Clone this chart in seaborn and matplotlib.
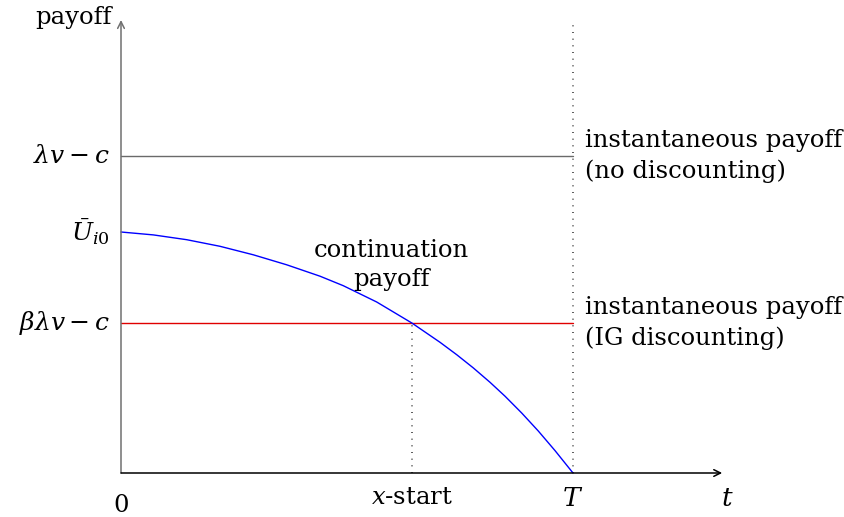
import numpy as np
import pandas as pd
import matplotlib
matplotlib.use("Agg")
import matplotlib.pyplot as plt
import seaborn as sns

# ----------------- Data -----------------
# time axis runs from 0 to T (T = 10)
T_END = 10.0
X_START = 6.44
LAMBDA_V_C = 3.17      # instantaneous payoff, no discounting
BETA_LAMBDA_V_C = 1.50 # instantaneous payoff, IG discounting
U_I0 = 2.41

# continuation payoff
cont_t = [0.0, 0.715, 1.454, 2.190, 2.927, 3.666, 4.403, 4.918, 5.657, 6.438,
          7.058, 7.427, 7.794, 8.164, 8.496, 8.865, 9.232, 9.602, 10.0]
cont_u = [2.410, 2.381, 2.333, 2.267, 2.182, 2.082, 1.968, 1.873, 1.710, 1.499,
          1.307, 1.183, 1.051, 0.907, 0.768, 0.600, 0.420, 0.224, 0.0]

ytick_vals = [LAMBDA_V_C, U_I0, BETA_LAMBDA_V_C]
ytick_labels = [r"$\lambda v - c$", r"$\bar{U}_{i0}$", r"$\beta\lambda v - c$"]

sns.set_theme(style="white")
plt.rcParams["font.family"] = ["DejaVu Serif"]
plt.rcParams["mathtext.fontset"] = "dejavuserif"
plt.rcParams["text.color"] = "black"

fig = plt.figure(figsize=(8.44, 5.17), dpi=100)
ax = fig.add_axes([0, 0, 1, 1])
ax.set_axis_off()
# pixel-ish mapping: 45.2 px per time unit, 100 px per payoff unit
ax.set_xlim(-121 / 45.2, (844 - 121) / 45.2)
ax.set_ylim(-(517 - 473) / 100, 473 / 100)

fs = 17.5
dots = (0, (0.6, 3.4))

# axes with arrows
ax.annotate("", xy=(0, 4.53), xytext=(0, 0),
            arrowprops=dict(arrowstyle="->", color="#707070", lw=1.1, shrinkA=0, shrinkB=0))
ax.annotate("", xy=(13.30, 0), xytext=(0, 0),
            arrowprops=dict(arrowstyle="->", color="black", lw=1.1, shrinkA=0, shrinkB=0))

# horizontal payoff levels
ax.plot([0, T_END], [LAMBDA_V_C, LAMBDA_V_C], color="#6a6a6a", lw=1.0)
ax.plot([0, T_END], [BETA_LAMBDA_V_C, BETA_LAMBDA_V_C], color="#e00000", lw=1.0)

# dotted verticals
ax.plot([T_END, T_END], [0, 4.53], color="#404040", lw=1.2, linestyle=dots)
ax.plot([X_START, X_START], [0, BETA_LAMBDA_V_C], color="#404040", lw=1.2, linestyle=dots)

# continuation payoff curve
df = pd.DataFrame({"t": cont_t, "u": cont_u})
sns.lineplot(data=df, x="t", y="u", ax=ax, color="#0000ff", lw=1.0, sort=False,
             solid_joinstyle="round")

# tick-like labels on y
for v, lab in zip(ytick_vals, ytick_labels):
    ax.text(-0.25, v, lab, ha="right", va="center", fontsize=18)

ax.text(-0.2, 4.56, "payoff", ha="right", va="center", fontsize=fs)
ax.text(0, -0.32, "0", ha="center", va="center", fontsize=fs)
ax.text(X_START, -0.25, r"$x$-start", ha="center", va="center", fontsize=fs)
ax.text(T_END, -0.25, r"$T$", ha="center", va="center", fontsize=19)
ax.text(13.42, -0.25, r"$t$", ha="center", va="center", fontsize=19)

ax.text(5.98, 2.08, "continuation\npayoff", ha="center", va="center",
        fontsize=fs, linespacing=1.38)
ax.text(10.27, 3.17, "instantaneous payoff\n(no discounting)", ha="left",
        va="center", fontsize=fs, linespacing=1.38)
ax.text(10.27, 1.50, "instantaneous payoff\n(IG discounting)", ha="left",
        va="center", fontsize=fs, linespacing=1.38)

fig.savefig("out.png", dpi=100)
